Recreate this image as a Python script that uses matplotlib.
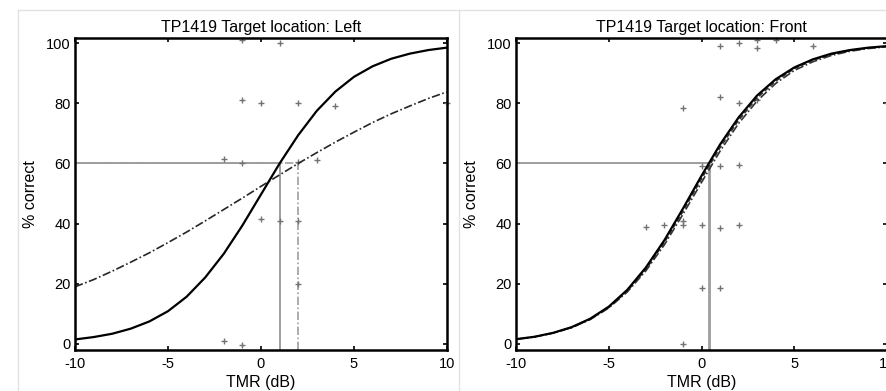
import matplotlib.pyplot as plt
from matplotlib.lines import Line2D

plt.rcParams['font.family'] = ['Liberation Sans', 'DejaVu Sans']
plt.rcParams['axes.unicode_minus'] = False

# TMR grid used for the fitted curves (dB)
tmr = list(range(-10, 11))

# left panel: target location Left
left_fit_a = [1.5, 2.3, 3.4, 5.1, 7.5, 10.9, 15.7, 22.1, 30.0, 39.4, 49.7,
              60.0, 69.4, 77.5, 83.9, 88.8, 92.3, 94.8, 96.5, 97.7, 98.5]
left_fit_b = [19.0, 21.4, 24.2, 27.2, 30.3, 33.7, 37.2, 40.9, 44.7, 48.5, 52.4,
              56.2, 60.0, 63.6, 67.1, 70.4, 73.6, 76.5, 79.1, 81.6, 83.8]
left_x = [-1, 1, -1, 0, 2, 4, 10, -2, -1, 2, 3, 0, 1, 2, 2, -2, -1]
left_y = [101, 100, 81, 80, 80, 79, 80, 61.5, 60, 60.5, 61, 41.5, 41, 41, 20, 1, -0.5]
left_thr_a = 1.0
left_thr_b = 2.0

# right panel: target location Front
front_fit_a = [1.6, 2.4, 3.7, 5.6, 8.4, 12.4, 18.0, 25.4, 34.5, 45.0, 55.9,
               66.3, 75.3, 82.6, 88.0, 91.9, 94.6, 96.5, 97.7, 98.5, 99.0]
front_fit_b = [1.55, 2.37, 3.62, 5.48, 8.22, 12.15, 17.6, 24.8, 33.8, 44.1, 54.9,
               65.3, 74.4, 81.8, 87.4, 91.5, 94.3, 96.2, 97.5, 98.4, 98.9]
front_fit_c = [1.56, 2.38, 3.62, 5.45, 8.13, 11.96, 17.3, 24.3, 33.0, 43.1, 53.7,
               64.1, 73.3, 80.8, 86.6, 90.9, 93.8, 95.9, 97.3, 98.2, 98.8]
front_x = [1, 2, 3, 3, 4, 6, -1, 1, 2, 3, 10, 0, 1, 2, -3, -2, -1, -1, 0, 1, 2, 0, 1, -1]
front_y = [99, 100, 98.5, 101, 101, 99, 78.5, 82, 80, 81, 80, 59, 59, 59.5,
           39, 39.5, 39.5, 41, 39.5, 38.5, 39.5, 18.5, 18.5, 0]
front_thr = 0.38

fig = plt.figure(figsize=(8.87, 3.91), dpi=100)

# light panel frames
for seg in [([18 / 887, 1], [381 / 391, 381 / 391]),
            ([18 / 887, 18 / 887], [0, 381 / 391]),
            ([459 / 887, 459 / 887], [0, 381 / 391])]:
    fig.add_artist(Line2D(seg[0], seg[1], color='#e2e2e2', lw=1))

ax1 = fig.add_axes([75 / 887, 41 / 391, 372 / 887, 312 / 391])
ax2 = fig.add_axes([516 / 887, 41 / 391, 371 / 887, 312 / 391])

gray = '0.62'
dashdot = (0, (5, 1.5, 1, 1.5))

# left
ax1.plot([-10, left_thr_b], [60, 60], color=gray, lw=1.2, ls=dashdot)
ax1.plot([-10, left_thr_a], [60, 60], color=gray, lw=1.4)
ax1.plot([left_thr_a, left_thr_a], [-2, 60], color=gray, lw=1.4)
ax1.plot([left_thr_b, left_thr_b], [-2, 60], color=gray, lw=1.2, ls=dashdot)
ax1.plot(left_x, left_y, '+', color='0.45', ms=5, mew=1, clip_on=False)
ax1.plot(tmr, left_fit_b, color='0.15', lw=1.2, ls=dashdot)
ax1.plot(tmr, left_fit_a, color='black', lw=1.6)
ax1.set_title('TP1419 Target location: Left', fontsize=11.5, pad=4)

# right
ax2.plot([-10, front_thr], [60, 60], color=gray, lw=1.4)
ax2.plot([front_thr, front_thr], [-2, 60], color=gray, lw=2)
ax2.plot(front_x, front_y, '+', color='0.45', ms=5, mew=1, clip_on=False)
ax2.plot(tmr, front_fit_c, color='0.2', lw=1.2, ls=dashdot)
ax2.plot(tmr, front_fit_b, color='0.2', lw=1.2, ls=(0, (3, 1.5)))
ax2.plot(tmr, front_fit_a, color='black', lw=1.6)
ax2.set_title('TP1419 Target location: Front', fontsize=11.5, pad=4)

for ax in (ax1, ax2):
    ax.set_xlim(-10, 10)
    ax.set_ylim(-2, 101.7)
    ax.set_xticks([-10, -5, 0, 5, 10])
    ax.set_yticks([0, 20, 40, 60, 80, 100])
    ax.tick_params(direction='in', length=3, width=1.2, top=True, right=True,
                   labelsize=10.5, pad=3)
    ax.tick_params(axis='x', pad=5)
    for s in ax.spines.values():
        s.set_linewidth(1.8)
    ax.set_xlabel('TMR (dB)', fontsize=11.5, labelpad=3)
    ax.set_ylabel('% correct', fontsize=11.5, labelpad=6)

plt.savefig('out.png', dpi=100)
